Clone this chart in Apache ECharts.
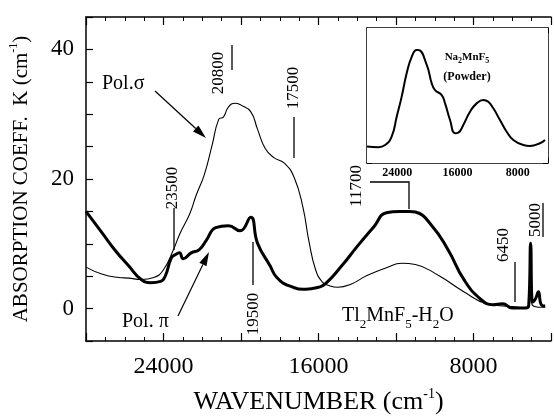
<!DOCTYPE html>
<html>
<head>
<meta charset="utf-8">
<script src="https://cdn.jsdelivr.net/npm/echarts@6/dist/echarts.min.js"></script>
<style>html,body{margin:0;padding:0;background:#fff;}#c{width:554px;height:420px;}</style>
</head>
<body>
<div id="c"></div>
<script>
// Pol. pi (thick) : wavenumber (cm-1) and absorption coefficient K (cm-1)
const piWave = [28000,27150,26500,25800,25150,24650,24150,23900,23600,23400,23180,22980,22570,22150,21800,21300,20650,20050,19500,19150,18500,18150,17500,16650,16000,15650,14800,14000,13150,12500,11800,11300,11000,10150,9300,8500,7650,7000,6500,6000,5300,5150,5050,4950,4800,4650,4500,4300];
const piK    = [15.0,11.6,9.0,6.6,4.5,4.0,4.2,5.1,7.8,8.3,8.6,7.7,8.6,9.1,10.5,12.5,12.8,12.0,14.1,10.1,6.6,4.8,3.5,3.0,3.3,3.8,6.6,9.6,12.6,14.8,15.0,15.0,14.9,12.8,9.0,4.5,1.5,0.6,0.75,0.1,0.1,0.5,10.1,1.0,1.5,2.6,0.6,0.4];
// Pol. sigma (thin)
const sigmaWave = [28000,27150,26300,25800,25150,24500,24000,23500,23150,22650,22300,21900,21500,21150,20900,20650,20300,20000,19500,19150,18750,18300,17750,17250,16800,16500,16150,15800,15500,15000,14300,13500,12500,11700,11000,9800,8500,7300,6000,5300,5150,5050,4950,4500,4300];
const sigmaK    = [6.4,5.3,4.8,4.7,4.5,4.8,6.0,9.0,11.6,14.6,17.6,20.6,25.1,29.2,29.6,31.1,31.7,31.4,30.4,27.7,24.7,23.3,22.4,20.2,15.6,10.5,6.0,4.1,3.6,3.3,3.8,5.1,6.3,7.0,6.8,5.1,2.6,0.75,0.3,0.15,0.3,2.0,0.5,0.2,0.2];
// Inset: Na2MnF5 powder (arbitrary units)
const naWave = [28000,26500,25600,24730,24060,23400,22740,22070,21410,21200,20080,19420,18980,18090,17650,16990,16330,15890,15230,14340,13460,12580,11920,11250,10370,9480,8600,7270,6390,5060,4400];
const naVal  = [0.73,0.70,0.80,1.17,2.06,2.95,3.99,4.72,5.02,5.02,4.36,3.54,3.24,3.02,2.65,1.91,1.32,1.35,1.69,2.28,2.65,2.80,2.72,2.43,1.91,1.39,1.02,0.80,0.76,0.88,1.02];
// tick labels
const mainXLabels = [24000,16000,8000];
const mainYLabels = [0,20,40];
const insetXLabels = [24000,16000,8000];

const zip = (a,b) => a.map((v,i)=>[v,b[i]]);
const SERIF = '"Liberation Serif","DejaVu Serif",serif';

const chart = echarts.init(document.getElementById('c'), null, {renderer:'canvas'});

function xAxisMain(pos, labels){
  return {
    type:'value', gridIndex:0, position:pos, min:4000, max:28000, interval:4000, inverse:true,
    axisLine:{show:true, onZero:false, lineStyle:{color:'#000', width:1.5}},
    axisTick:{show:true, inside:true, length:8, lineStyle:{color:'#000', width:1.2}},
    minorTick:{show:true, splitNumber:4, length:4, lineStyle:{color:'#000', width:1}},
    splitLine:{show:false},
    axisLabel:{show:labels, margin:14, color:'#000', fontSize:24, fontFamily:SERIF,
      formatter: v => mainXLabels.includes(v) ? String(v) : ''},
    name: labels ? 'WAVENUMBER (cm{sup|-1})' : '',
    nameLocation:'middle', nameGap:46,
    nameTextStyle:{color:'#000', fontSize:26, fontFamily:SERIF,
      rich:{sup:{fontSize:14, fontFamily:SERIF, color:'#000', verticalAlign:'top', lineHeight:30}}}
  };
}
function xAxisInset(pos, labels){
  return {
    type:'value', gridIndex:1, position:pos, min:4000, max:28000, interval:4000, inverse:true,
    axisLine:{show:true, onZero:false, lineStyle:{color:'#000', width:1.5}},
    axisTick:{show:true, inside:true, length:5, lineStyle:{color:'#000', width:1}},
    minorTick:{show:true, splitNumber:4, length:3, lineStyle:{color:'#000', width:1}},
    splitLine:{show:false},
    axisLabel:{show:labels, margin:4, color:'#000', fontSize:12, fontWeight:'bold', fontFamily:SERIF,
      formatter: v => insetXLabels.includes(v) ? String(v) : ''}
  };
}
function yAxisInset(pos){
  return {
    type:'value', gridIndex:1, position:pos, min:0, max:6, interval:1,
    axisLine:{show:true, onZero:false, lineStyle:{color:'#000', width:1.5}},
    axisTick:{show:true, inside:true, length:5, lineStyle:{color:'#000', width:1}},
    minorTick:{show:true, splitNumber:2, length:3, lineStyle:{color:'#000', width:1}},
    splitLine:{show:false}, axisLabel:{show:false}
  };
}

function arrow(x1,y1,x2,y2,len,w){
  const a = Math.atan2(y2-y1, x2-x1);
  const bx = x2 - len*Math.cos(a), by = y2 - len*Math.sin(a);
  const px = -Math.sin(a), py = Math.cos(a);
  return [
    {type:'line', shape:{x1:x1,y1:y1,x2:bx,y2:by}, style:{stroke:'#000', lineWidth:1.2}},
    {type:'polygon', shape:{points:[[x2,y2],[bx+px*w,by+py*w],[bx-px*w,by-py*w]]}, style:{fill:'#000'}}
  ];
}
function vtext(x,y,t){
  return {type:'text', x:x, y:y, rotation:Math.PI/2,
    style:{text:t, fontSize:17, fontFamily:SERIF, fill:'#000', align:'center', verticalAlign:'middle'}};
}
function seg(pts){
  return {type:'polyline', shape:{points:pts}, style:{stroke:'#000', lineWidth:1.3, fill:null}};
}

const graphics = [
  {type:'text', x:102, y:84, style:{text:'Pol.σ', fontSize:20, fontFamily:SERIF, fill:'#000', align:'left', verticalAlign:'middle'}},
  {type:'text', x:122, y:322, style:{text:'Pol. π', fontSize:20, fontFamily:SERIF, fill:'#000', align:'left', verticalAlign:'middle'}},
  ...arrow(155,91,206,138,14,4),
  ...arrow(178,316,209,252,14,4),
  vtext(173,188,'23500'), seg([[174,208],[174,250]]),
  vtext(219,73,'20800'), seg([[232,45],[232,70]]),
  vtext(294,88,'17500'), seg([[294,117],[294,158]]),
  vtext(357,186,'11700'), seg([[370,182],[409,182],[409,209]]),
  vtext(254,314,'19500'), seg([[253,242],[253,285]]),
  vtext(504,245,'6450'), seg([[515,262],[515,302]]),
  vtext(536,220,'5000'), seg([[543,203],[543,237]]),
  {type:'text', x:342, y:316, style:{text:'Tl{s|2}MnF{s|5}-H{s|2}O', fontSize:20, fontFamily:SERIF, fill:'#000',
     align:'left', verticalAlign:'middle', lineHeight:30,
     rich:{s:{fontSize:13, fontFamily:SERIF, fill:'#000', verticalAlign:'bottom', lineHeight:30}}}},
  {type:'text', x:467, y:57, z:100, style:{text:'Na{s|2}MnF{s|5}', fontSize:11, fontWeight:'bold', fontFamily:SERIF, fill:'#000',
     align:'center', verticalAlign:'middle', lineHeight:16,
     rich:{s:{fontSize:8, fontWeight:'bold', fontFamily:SERIF, fill:'#000', verticalAlign:'bottom', lineHeight:16}}}},
  {type:'text', x:467, y:77, z:100, style:{text:'(Powder)', fontSize:12, fontWeight:'bold', fontFamily:SERIF, fill:'#000', align:'center', verticalAlign:'middle'}}
];

chart.setOption({
  backgroundColor:'#fff',
  animation:false,
  grid:[
    {left:83, right:-9, top:17, bottom:69, show:false},
    {left:367, top:28, width:181, height:135, show:true, backgroundColor:'#fff', borderWidth:0, z:5}
  ],
  xAxis:[ xAxisMain('bottom', true), xAxisMain('top', false), xAxisInset('bottom', true), xAxisInset('top', false) ],
  yAxis:[
    {type:'value', gridIndex:0, position:'left', min:-5, max:45, interval:5,
     axisLine:{show:true, onZero:false, lineStyle:{color:'#000', width:1.5}},
     axisTick:{show:true, inside:true, length:7, lineStyle:{color:'#000', width:1.2}},
     splitLine:{show:false},
     axisLabel:{margin:12, color:'#000', fontSize:23, fontFamily:SERIF,
       formatter: v => mainYLabels.includes(v) ? String(v) : ''},
     name:'ABSORPTION COEFF.  K (cm{sup|-1})', nameLocation:'middle', nameGap:52, nameRotate:90,
     nameTextStyle:{color:'#000', fontSize:21, fontFamily:SERIF,
       rich:{sup:{fontSize:12, fontFamily:SERIF, color:'#000', verticalAlign:'top', lineHeight:26}}}
    },
    yAxisInset('left'), yAxisInset('right')
  ],
  series:[
    {type:'line', name:'Pol. sigma', xAxisIndex:0, yAxisIndex:0, data:zip(sigmaWave, sigmaK), showSymbol:false,
     smooth:0.5, lineStyle:{color:'#000', width:1.1}, z:2, clip:true},
    {type:'line', name:'Pol. pi', xAxisIndex:0, yAxisIndex:0, data:zip(piWave, piK), showSymbol:false,
     smooth:0.5, lineStyle:{color:'#000', width:3}, z:3, clip:true},
    {type:'line', name:'Na2MnF5', xAxisIndex:2, yAxisIndex:1, data:zip(naWave, naVal), showSymbol:false,
     smooth:0.5, lineStyle:{color:'#000', width:2}, z:10}
  ],
  graphic: graphics
});
</script>
</body>
</html>
